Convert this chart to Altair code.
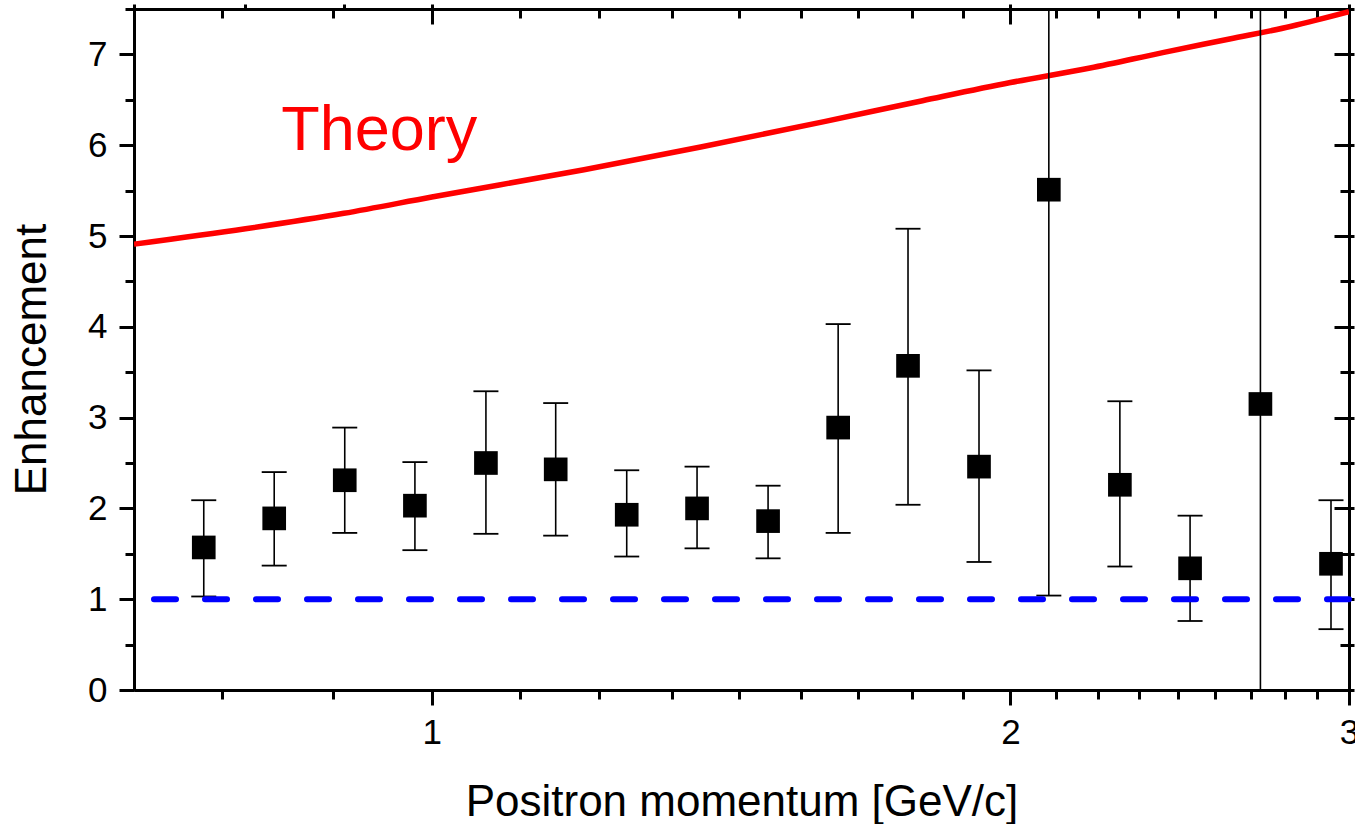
import altair as alt
import pandas as pd

# ---- data ----
momentum = [0.761, 0.828, 0.901, 0.980, 1.067, 1.160, 1.263, 1.374, 1.496,
            1.627, 1.769, 1.926, 2.094, 2.280, 2.480, 2.698, 2.936]
enhancement = [1.57, 1.89, 2.31, 2.03, 2.50, 2.43, 1.93, 2.00, 1.86,
               2.89, 3.57, 2.46, 5.51, 2.26, 1.34, 3.15, 1.39]
err_high = [2.09, 2.40, 2.89, 2.51, 3.29, 3.16, 2.42, 2.46, 2.25,
            4.03, 5.08, 3.52, 9.98, 3.18, 1.92, 7.75, 2.09]
err_low = [1.03, 1.37, 1.73, 1.54, 1.72, 1.70, 1.47, 1.56, 1.45,
           1.73, 2.04, 1.41, 1.04, 1.36, 0.76, -1.45, 0.67]

theory_x = [0.70, 0.80, 0.90, 1.00, 1.20, 1.38, 1.60, 1.80, 2.00, 2.20, 2.40, 2.60, 2.80, 3.00]
theory_y = [4.91, 5.08, 5.25, 5.43, 5.73, 5.98, 6.26, 6.49, 6.69, 6.85, 7.02, 7.17, 7.31, 7.47]

baseline_value = [1]

x_major = [1, 2, 3]
x_minor = [0.7778, 0.8889,
           1.1111, 1.2222, 1.3333, 1.4444, 1.5556, 1.6667, 1.7778, 1.8889,
           2.1111, 2.2222, 2.3333, 2.4444, 2.5556, 2.6667, 2.7778, 2.8889]
y_major = [0, 1, 2, 3, 4, 5, 6, 7]
y_minor = [0.5, 1.5, 2.5, 3.5, 4.5, 5.5, 6.5, 7.5]

label_text = "Theory"
label_pos = [0.835, 5.95]

# ---- tables ----
pts = pd.DataFrame({"p": momentum, "e": enhancement, "hi": err_high, "lo": err_low})
th = pd.DataFrame({"p": theory_x, "e": theory_y})
base_df = pd.DataFrame({"v": baseline_value})

W, H = 1215, 681
MAJOR, MINOR = 15, 9
x_scale = alt.Scale(type="log", domain=[0.70, 3.0], nice=False)
y_scale = alt.Scale(domain=[0, 7.5], nice=False, zero=False)

# bottom / left: labelled major ticks
x_axis_major = alt.Axis(
    orient="bottom", values=x_major, format="d", tickSize=MAJOR,
    labelPadding=10, labelFlush=False, labelOverlap=False,
    title="Positron momentum [GeV/c]", titleY=125, titleBaseline="alphabetic",
    grid=False,
)
y_axis_major = alt.Axis(
    orient="left", values=y_major, format="d", tickSize=MAJOR,
    labelPadding=12, labelFlush=False, labelOverlap=False,
    title="Enhancement", titleX=-89, titleY=350, titleBaseline="alphabetic",
    titleAlign="center", grid=False,
)
# bottom / left: minor ticks
x_axis_minor = alt.Axis(orient="bottom", values=x_minor, tickSize=MINOR,
                        labels=False, title=None, grid=False)
y_axis_minor = alt.Axis(orient="left", values=y_minor, tickSize=MINOR,
                        labels=False, title=None, grid=False)
# top / right mirror ticks pointing inward
x_axis_top_major = alt.Axis(orient="bottom", offset=-H, values=x_major, tickSize=MAJOR,
                            labels=False, title=None, grid=False)
y_axis_right_major = alt.Axis(orient="left", offset=-W, values=y_major, tickSize=MAJOR,
                              labels=False, title=None, grid=False)
x_axis_top_minor = alt.Axis(orient="bottom", offset=-H, values=x_minor, tickSize=MINOR,
                            labels=False, title=None, grid=False)
y_axis_right_minor = alt.Axis(orient="left", offset=-W, values=y_minor, tickSize=MINOR,
                              labels=False, title=None, grid=False)

theory = alt.Chart(th).mark_line(
    color="#ff0000", strokeWidth=5.5, interpolate="monotone", clip=True
).encode(
    x=alt.X("p:Q", scale=x_scale, axis=x_axis_major),
    y=alt.Y("e:Q", scale=y_scale, axis=y_axis_major),
)

bars = alt.Chart(pts).mark_rule(color="black", strokeWidth=1.6, clip=True).encode(
    x=alt.X("p:Q", scale=x_scale, axis=x_axis_minor),
    y=alt.Y("lo:Q", scale=y_scale, axis=y_axis_minor),
    y2="hi:Q",
)
cap_hi = alt.Chart(pts).mark_tick(
    orient="horizontal", size=25, thickness=1.8, color="black", opacity=1, clip=True
).encode(
    x=alt.X("p:Q", scale=x_scale, axis=x_axis_top_major),
    y=alt.Y("hi:Q", scale=y_scale, axis=y_axis_right_major),
)
cap_lo = alt.Chart(pts).mark_tick(
    orient="horizontal", size=25, thickness=1.8, color="black", opacity=1, clip=True
).encode(
    x=alt.X("p:Q", scale=x_scale, axis=x_axis_top_minor),
    y=alt.Y("lo:Q", scale=y_scale, axis=y_axis_right_minor),
)

dashed = alt.Chart(base_df).mark_rule(
    color="#0000ff", strokeWidth=6, strokeDash=[22, 29], strokeCap="round"
).encode(
    y=alt.Y("v:Q", scale=y_scale, axis=None),
)

squares = alt.Chart(pts).mark_square(size=560, color="black", opacity=1).encode(
    x=alt.X("p:Q", scale=x_scale, axis=None),
    y=alt.Y("e:Q", scale=y_scale, axis=None),
)

text = alt.Chart(pd.DataFrame({"t": [label_text]})).mark_text(
    color="#ff0000", fontSize=63, align="left", baseline="alphabetic",
    font="Liberation Sans",
).encode(
    x=alt.datum(label_pos[0], scale=x_scale),
    y=alt.datum(label_pos[1], scale=y_scale),
    text="t:N",
)

chart = alt.layer(theory, bars, cap_hi, cap_lo, dashed, squares, text).resolve_axis(
    x="independent", y="independent"
).properties(
    width=W, height=H,
    autosize=alt.AutoSizeParams(type="none"),
    padding={"left": 134, "top": 9, "right": 6, "bottom": 134},
).configure(
    font="Liberation Sans",
).configure_view(
    stroke=None,
).configure_axis(
    domainColor="black", domainWidth=3, tickColor="black", tickWidth=3,
    labelColor="black", labelFontSize=35, labelFont="Liberation Sans",
    titleColor="black", titleFontSize=44, titleFontWeight="normal",
    titleFont="Liberation Sans",
)

chart.save("out.html", embed_options={"renderer": "svg", "actions": False})
